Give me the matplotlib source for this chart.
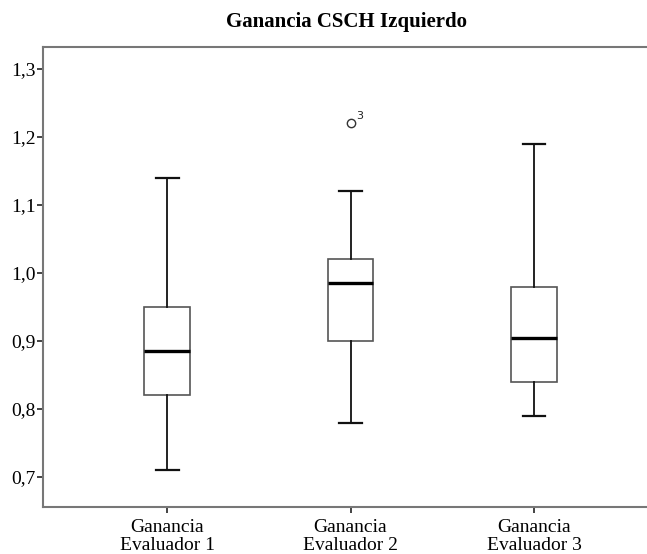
import matplotlib.pyplot as plt

labels = ["Ganancia\nEvaluador 1", "Ganancia\nEvaluador 2", "Ganancia\nEvaluador 3"]
whislo = [0.71, 0.78, 0.79]
q1 = [0.82, 0.90, 0.84]
med = [0.885, 0.985, 0.905]
q3 = [0.95, 1.02, 0.98]
whishi = [1.14, 1.12, 1.19]
fliers = [[], [1.22], []]
flier_ids = [[], ["3"], []]

plt.rcParams['font.family'] = ['Liberation Serif', 'DejaVu Serif']

stats = []
for i in range(3):
    stats.append({"label": labels[i], "whislo": whislo[i], "q1": q1[i], "med": med[i],
                  "q3": q3[i], "whishi": whishi[i], "fliers": fliers[i]})

fig = plt.figure(figsize=(6.47, 5.54), dpi=100)
ax = fig.add_axes([0.0665, 0.085, 0.9335, 0.83])
pos = [1, 2, 3]
ax.bxp(stats, positions=pos, widths=0.25, patch_artist=True,
       boxprops=dict(facecolor='white', edgecolor='#555555', linewidth=1.2),
       whiskerprops=dict(color='#111111', linewidth=1.3),
       capprops=dict(color='#111111', linewidth=1.6),
       capwidths=0.125,
       medianprops=dict(color='black', linewidth=2.4),
       flierprops=dict(marker='o', markerfacecolor='white', markeredgecolor='#333333',
                       markersize=6, markeredgewidth=1.0))

for p, fl, ids in zip(pos, fliers, flier_ids):
    for v, t in zip(fl, ids):
        ax.annotate(t, (p, v), xytext=(4, 3), textcoords='offset points',
                    fontsize=8, family='DejaVu Sans', color='#222222')

ax.set_xlim(0.324, 3.616)
ax.set_ylim(0.656, 1.332)
ax.set_yticks([0.7, 0.8, 0.9, 1.0, 1.1, 1.2, 1.3])
ax.set_yticklabels(["0,7", "0,8", "0,9", "1,0", "1,1", "1,2", "1,3"], fontsize=14)
ax.set_xticks(pos)
ax.set_xticklabels(labels, fontsize=14, linespacing=1.05)
ax.tick_params(axis='y', length=4, width=1.2, color='#222222', pad=1)
ax.tick_params(axis='x', length=4, width=1.2, color='#222222', pad=5)
ax.spines['right'].set_visible(False)
for s in ['left', 'top', 'bottom']:
    ax.spines[s].set_color('#777777')
    ax.spines[s].set_linewidth(1.5)
fig.suptitle("Ganancia CSCH Izquierdo", x=0.535, y=0.978, fontsize=15, fontweight='bold')

fig.savefig("out.png", dpi=100)
